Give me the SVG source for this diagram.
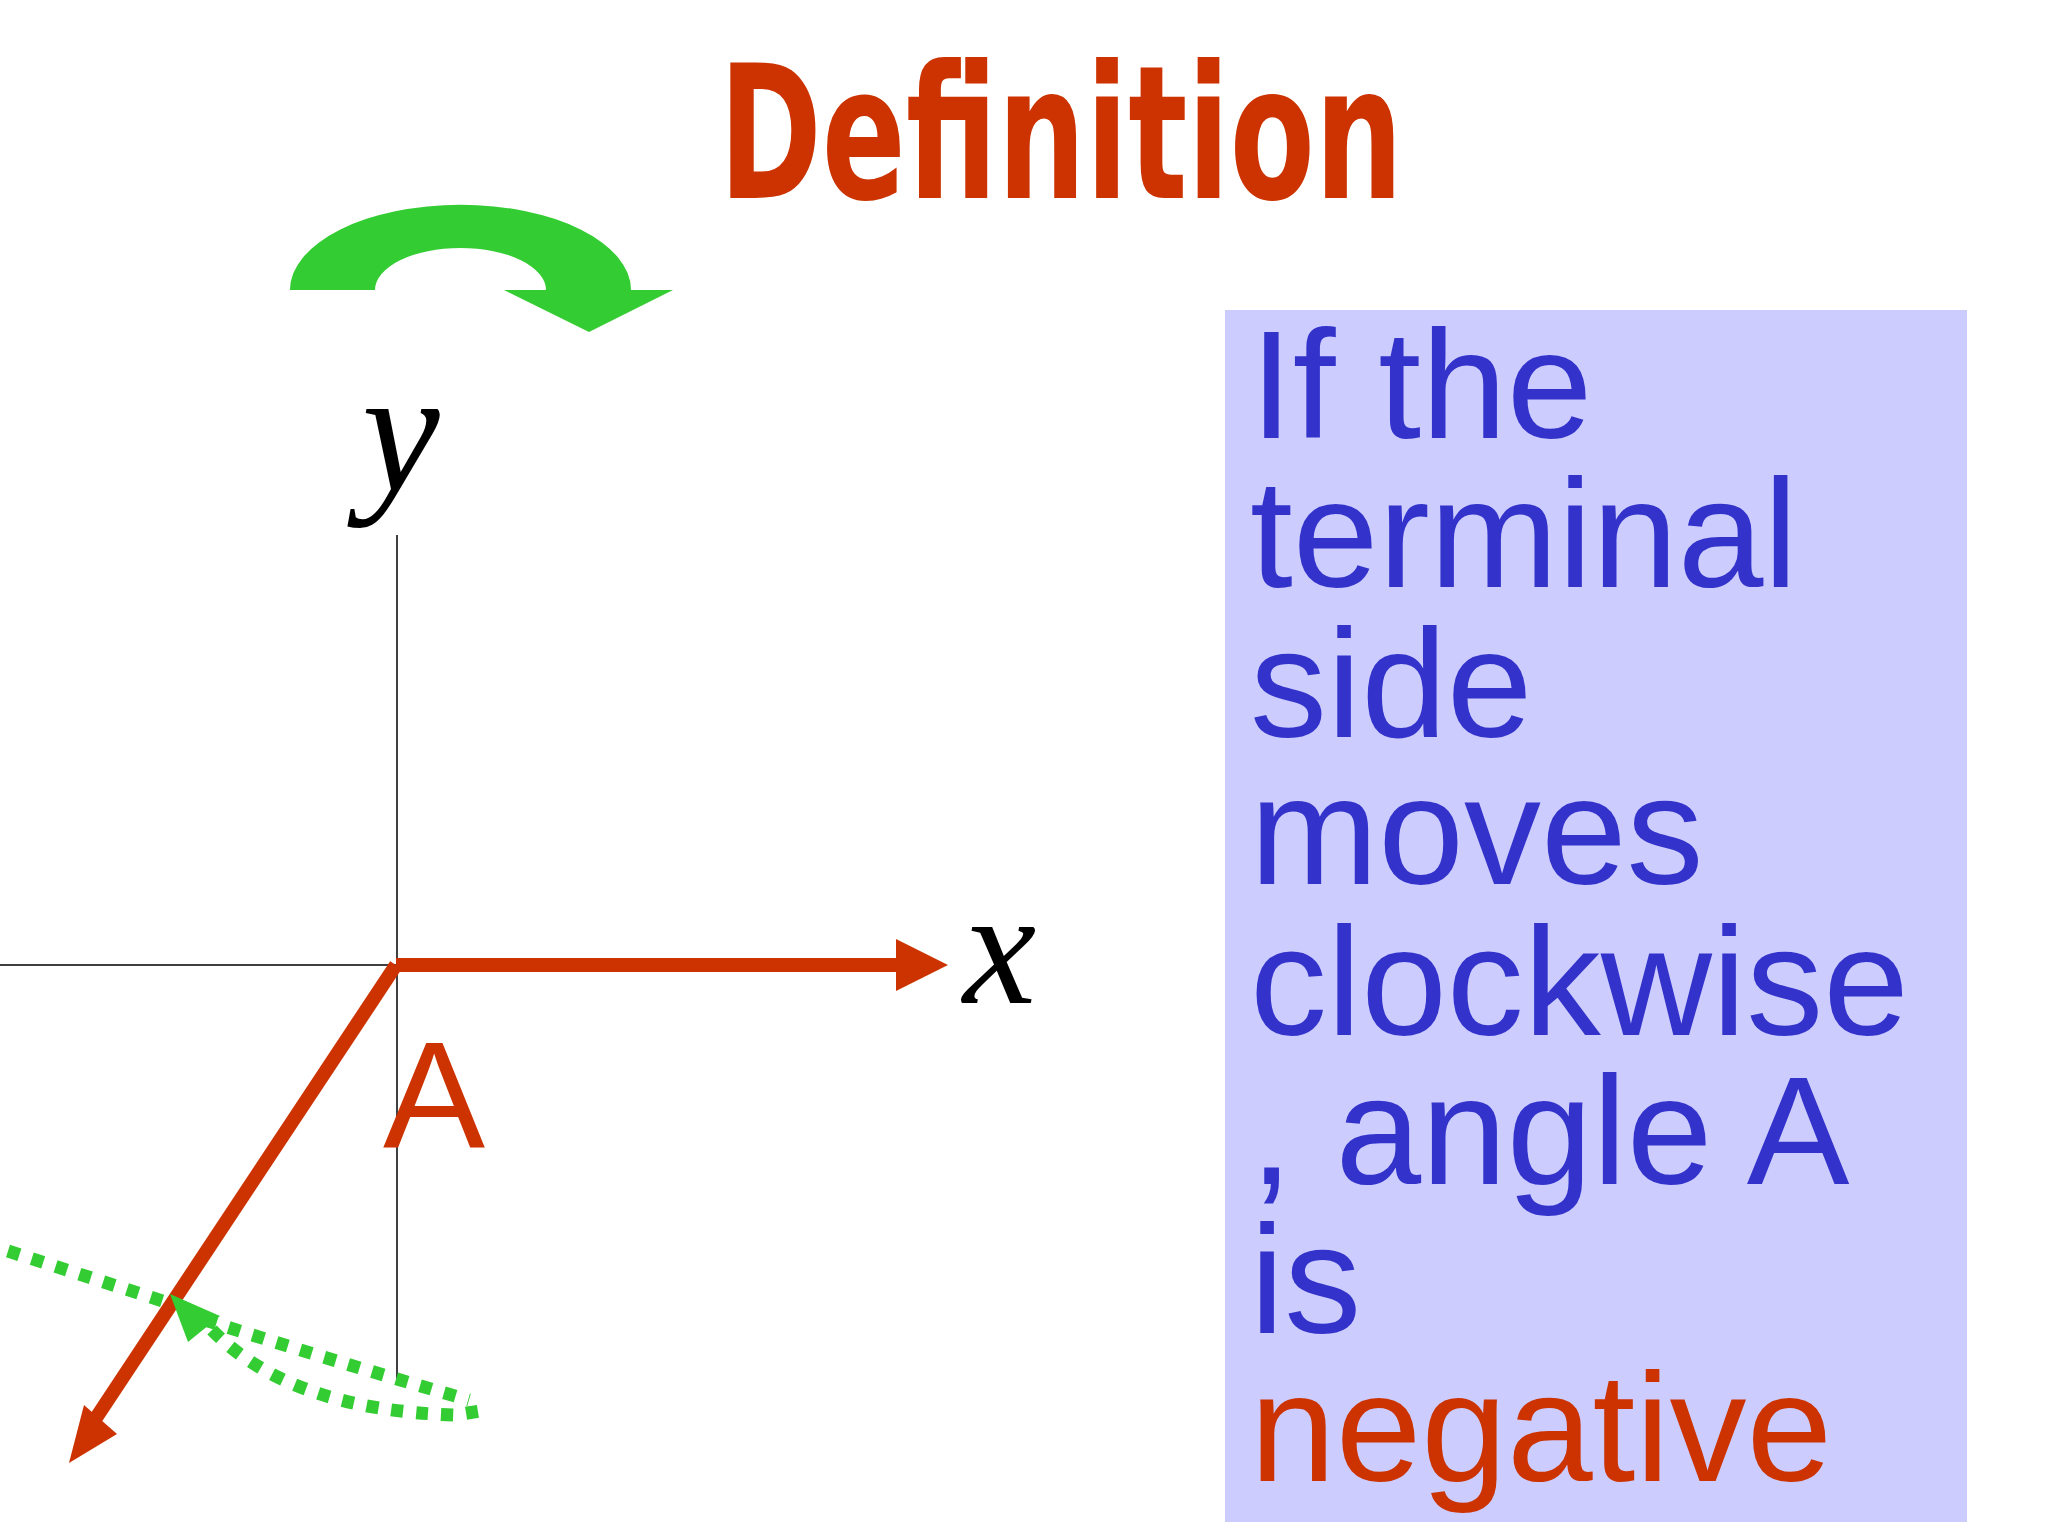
<svg xmlns="http://www.w3.org/2000/svg" width="2048" height="1536" viewBox="0 0 2048 1536">
<style>
.t{font-family:"Liberation Sans",Arial,sans-serif;font-size:154px;fill:#3333cc}
.dot{fill:none;stroke:#33cc33;stroke-width:13;stroke-dasharray:12 13}
</style>
<rect width="2048" height="1536" fill="#fff"/>
<g id="title"><text x="719" y="198" textLength="684" lengthAdjust="spacingAndGlyphs" font-family="DejaVu Sans Condensed,DejaVu Sans,sans-serif" font-weight="bold" font-size="186" fill="#cc3300">Definition</text></g>
<g id="rotation-arrow"><path d="M290 290 A170 85 0 0 1 631 290 L673 290 L589 332 L504 290 L546 290 A85.5 42 0 0 0 375 290 Z" fill="#33cc33"/></g>
<g id="axes">
<line x1="397" y1="535" x2="397" y2="1380" stroke="#000" stroke-width="1.5"/>
<line x1="0" y1="965" x2="397" y2="965" stroke="#000" stroke-width="1.5"/>
<text x="362" y="490" font-family="Liberation Serif,serif" font-style="italic" font-size="175">y</text>
<text x="963" y="1003" font-family="Liberation Serif,serif" font-style="italic" font-size="165">x</text>
</g>
<g id="connectors">
<line x1="396" y1="965" x2="900" y2="965" stroke="#cc3300" stroke-width="14"/>
<polygon points="896,939 948,965 896,991" fill="#cc3300"/>
<line x1="396" y1="965" x2="96" y2="1418" stroke="#cc3300" stroke-width="14"/>
<polygon points="69,1463 84,1405 117,1434" fill="#cc3300"/>
<path class="dot" d="M8 1251 L172 1304"/>
<path class="dot" d="M205 1320 Q330 1360 469 1400"/>
<path class="dot" d="M212 1330 Q290 1410 455 1415 L486 1410"/>
<polygon points="170,1294 220,1316 188,1342" fill="#33cc33"/>
</g>
<g id="label-A"><text x="383" y="1148" font-family="Liberation Sans,Arial,sans-serif" font-size="153" fill="#cc3300">A</text></g>
<g id="text-box">
<rect x="1225" y="310" width="742" height="1212" fill="#ccccff"/>
<text class="t" x="1250" y="438">If the</text>
<text class="t" x="1250" y="587">terminal</text>
<text class="t" x="1250" y="737">side</text>
<text class="t" x="1250" y="884">moves</text>
<text class="t" x="1250" y="1035">clockwise</text>
<text class="t" x="1250" y="1184">, angle A</text>
<text class="t" x="1250" y="1333">is</text>
<text class="t" x="1250" y="1481" style="fill:#cc3300">negative</text>
</g>
</svg>
